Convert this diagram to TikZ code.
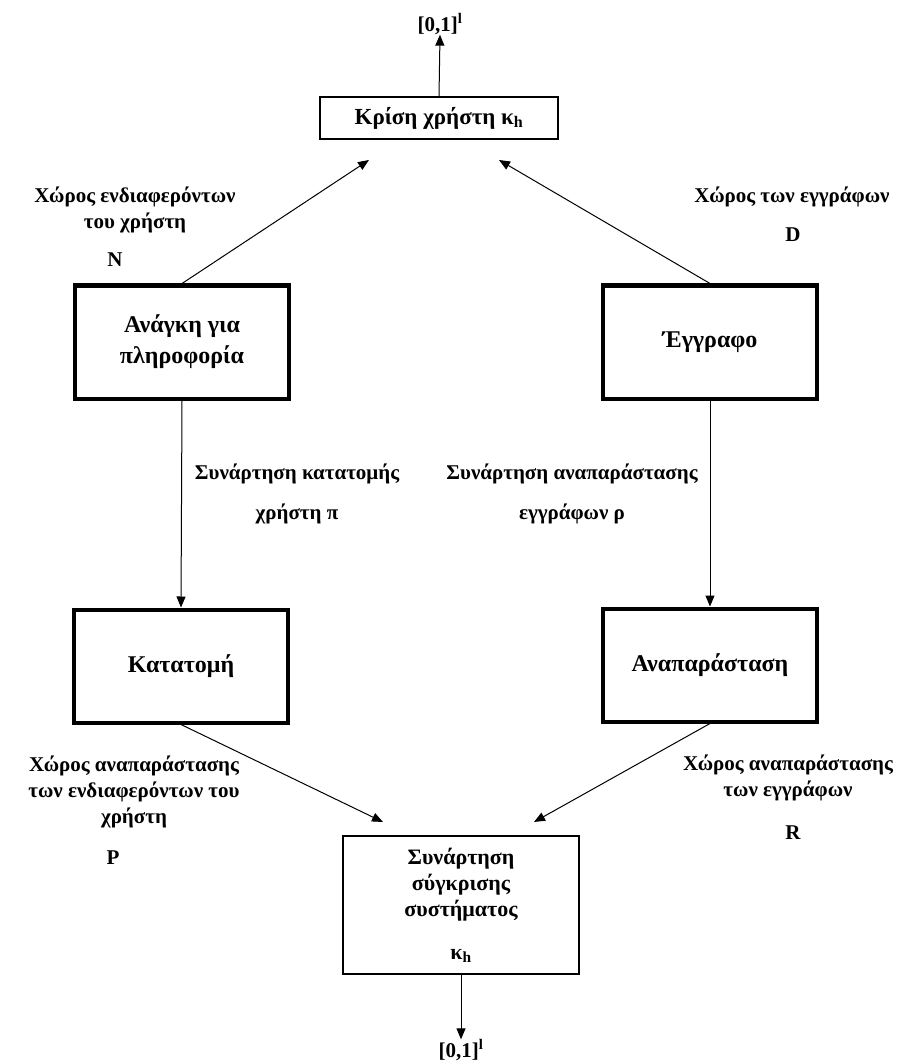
\documentclass[tikz,border=0pt]{standalone}
\usepackage{fontspec}
\setmainfont{Liberation Serif}
\usetikzlibrary{arrows.meta}
\tikzset{
  thinbox/.style={draw, line width=1.3pt, minimum width=#1, inner sep=0pt, align=center},
  thickbox/.style={draw, line width=4pt, minimum width=214pt, minimum height=113pt, inner sep=0pt, align=center, font=\fontsize{24}{31}\selectfont\bfseries},
  lbl/.style={align=center, inner sep=0pt, font=\fontsize{21}{26}\selectfont\bfseries},
  conn/.style={line width=1pt, -{Triangle[length=11pt,width=9pt]}},
}
\begin{document}
\begin{tikzpicture}[x=1pt,y=-1pt]
\path[use as bounding box, fill=white] (0,0) rectangle (900,1064);
% top
\node[lbl] (top01) at (440,24) {[0,1]\textsuperscript{l}};
\node[thinbox=238pt, minimum height=42pt, font=\fontsize{23}{26}\selectfont\bfseries] (krisi) at (439,118) {Κρίση χρήστη κ\textsubscript{h}};
% main boxes
\node[thickbox] (anagki) at (182,342) {Ανάγκη για\\πληροφορία};
\node[thickbox] (eggrafo) at (710,342) {Έγγραφο};
\node[thickbox] (katatomi) at (181,666) {Κατατομή};
\node[thickbox] (anapar) at (710,665) {Αναπαράσταση};
\node[thinbox=236pt, minimum height=138pt] (sygkrisi) at (461,905) {};
\node[lbl, font=\fontsize{22}{26}\selectfont\bfseries, anchor=north] (sygtxt) at (461,848) {Συνάρτηση\\σύγκρισης\\συστήματος};
\node[lbl, font=\fontsize{22}{26}\selectfont\bfseries] (sygk) at (461,956) {κ\textsubscript{h}};
\node[lbl] (bot01) at (461,1050) {[0,1]\textsuperscript{l}};
% free ends
\coordinate (lt) at (369,160);
\coordinate (rt) at (499,160);
\coordinate (lb) at (383,822);
\coordinate (rb) at (534,822);
% connectors
\draw[conn] (krisi.north) -- (top01.south);
\draw[conn] (anagki.north) -- (lt);
\draw[conn] (eggrafo.north) -- (rt);
\draw[conn] (anagki.south) -- (katatomi.north);
\draw[conn] (eggrafo.south) -- (anapar.north);
\draw[conn] (katatomi.south) -- (lb);
\draw[conn] (anapar.south) -- (rb);
\draw[conn] (sygkrisi.south) -- (bot01.north);
% labels
\node[lbl] (lN1) at (135,210) {Χώρος ενδιαφερόντων\\του χρήστη};
\node[lbl] (lN) at (115,260) {N};
\node[lbl] (lD1) at (792,197) {Χώρος των εγγράφων};
\node[lbl] (lD) at (793,235) {D};
\node[lbl] (lpi) at (297,494) {Συνάρτηση κατατομής\\[14pt]χρήστη π};
\node[lbl] (lrho) at (572,494) {Συνάρτηση αναπαράστασης\\[14pt]εγγράφων ρ};
\node[lbl] (lP1) at (134,792) {Χώρος αναπαράστασης\\των ενδιαφερόντων του\\χρήστη};
\node[lbl] (lP) at (113,858) {P};
\node[lbl] (lR1) at (788,778) {Χώρος αναπαράστασης\\των εγγράφων};
\node[lbl] (lR) at (793,833) {R};
\end{tikzpicture}
\end{document}
